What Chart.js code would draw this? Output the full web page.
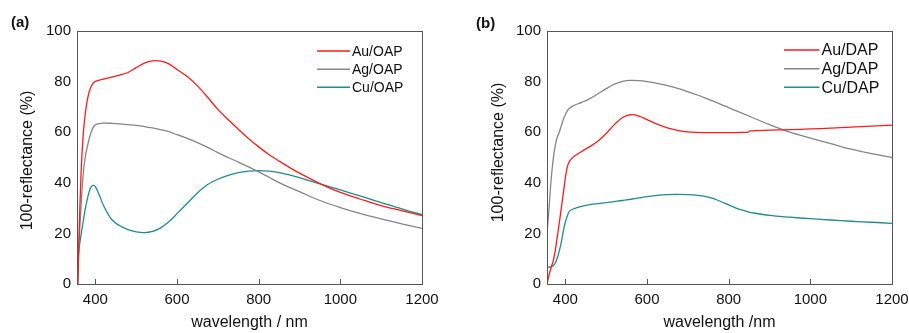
<!DOCTYPE html>
<html>
<head>
<meta charset="utf-8">
<script src="https://cdn.jsdelivr.net/npm/chart.js@4.4.1/dist/chart.umd.min.js"></script>
<style>
  html, body { margin:0; padding:0; background:#fff; width:909px; height:333px; overflow:hidden; position:relative; }
  canvas { position:absolute; top:0; }
  #ca { left:0; }
  #cb { left:455px; }
</style>
</head>
<body>
<canvas id="ca" width="455" height="333"></canvas>
<canvas id="cb" width="470" height="333"></canvas>
<script>
// ---------- data ----------
const xTicks = [400, 600, 800, 1000, 1200];
const yTicks = [0, 20, 40, 60, 80, 100];

// panel (a)
const wlA = [357,360,365,370,375,380,385,390,395,400,410,420,440,460,480,500,520,540,560,580,600,
             625,650,675,700,725,750,775,800,825,850,875,900,950,1000,1050,1100,1150,1200];
const auOAP = [0,19,44,58.5,67,72.5,76,78.2,79.5,80.1,80.6,81,81.8,82.6,83.6,85.5,87.3,88.2,88.1,87,84.8,
               82,78.3,73.8,69,65,61.2,57.5,54.2,51.2,48.6,46.1,43.8,39.7,36.2,33.5,31,29,27];
const agOAP = [0,16,31,43,50,54,57.5,60.2,62,62.9,63.4,63.6,63.5,63.3,63,62.7,62.2,61.7,61,60.2,59,
               57.6,55.9,54,51.9,50,48.2,46.3,44.3,42.2,40.1,38.2,36.5,33,30.2,27.8,25.7,23.8,22];
const cuOAP = [9,14,19.5,24.5,29.5,33.3,36.6,38.5,39,38.5,35,31,25.5,23,21.5,20.6,20.3,20.8,22.2,24.6,27.8,
               31.9,36,39.3,41.4,42.9,44,44.6,44.8,44.6,44,43.1,42,39.6,37.2,34.7,32.2,29.7,27.4];
const namesA = ["Au/OAP", "Ag/OAP", "Cu/OAP"];

// panel (b)
const wlB = [355,360,365,370,375,380,385,390,395,400,405,410,420,440,460,480,500,520,540,560,580,600,
             625,650,675,700,725,750,775,800,825,848,852,900,950,1000,1050,1100,1150,1200];
const auDAP = [0,3.5,6.5,9,13,18.5,24,30,36,42,46.5,48.5,50.3,52.4,54.3,56.5,59.5,63,65.8,66.9,66.4,65,
               63.2,61.7,60.7,60.1,59.9,59.8,59.8,59.8,59.9,60,60.5,60.8,61,61.3,61.6,62,62.4,62.8];
const agDAP = [20,30,41,49,54.5,58,60,62.5,65,67,68.5,69.5,70.5,71.8,73.3,75.2,77.2,79,80.1,80.5,80.4,80,
               79.3,78.4,77.3,76,74.6,73,71.4,69.7,68,66.5,66.2,63,60,57.7,55.5,53.3,51.5,50];
const cuDAP = [6.6,6.7,6.8,7.2,8.2,10.2,13,16.5,21,24.5,27,28.8,29.7,30.7,31.4,31.8,32.2,32.6,33,33.5,34,34.5,
               35,35.3,35.4,35.3,35,34.3,33,31.3,29.6,28.5,28.3,27.1,26.4,25.8,25.3,24.8,24.4,24];
const namesB = ["Au/DAP", "Ag/DAP", "Cu/DAP"];

// ---------- styling ----------
const COLORS = ["#ff1a1a", "#858585", "#1f8c8c"];
const FONT = "'Liberation Sans', Arial, Helvetica, sans-serif";
const FRAME = "#555555";

function pts(xs, ys) { return xs.map((x, i) => ({ x: x, y: ys[i] })); }

function makeChart(id, cfg) {
  const decor = {
    id: 'decor',
    afterDraw(chart) {
      const ctx = chart.ctx, a = chart.chartArea;
      const xs = chart.scales.x;
      ctx.save();
      // frame
      ctx.strokeStyle = FRAME;
      ctx.lineWidth = 1;
      ctx.strokeRect(Math.round(a.left) + 0.5, Math.round(a.top) + 0.5,
                     Math.round(a.right - a.left), Math.round(a.bottom - a.top));
      // inward x ticks
      ctx.beginPath();
      xTicks.forEach(v => {
        const px = Math.round(xs.getPixelForValue(v)) + 0.5;
        ctx.moveTo(px, a.bottom);
        ctx.lineTo(px, a.bottom - 5);
      });
      ctx.stroke();
      // legend
      ctx.font = cfg.legendFont + "px " + FONT;
      ctx.textBaseline = 'middle';
      ctx.textAlign = 'left';
      cfg.names.forEach((n, i) => {
        const y = cfg.legY[i];
        ctx.strokeStyle = COLORS[i];
        ctx.lineWidth = 1.5;
        ctx.beginPath();
        ctx.moveTo(cfg.legX0, y);
        ctx.lineTo(cfg.legX1, y);
        ctx.stroke();
        ctx.fillStyle = "#111";
        ctx.fillText(n, cfg.legTx, y + 1);
      });
      // axis titles
      ctx.fillStyle = "#111";
      ctx.font = "16px " + FONT;
      ctx.textAlign = 'center';
      ctx.textBaseline = 'alphabetic';
      ctx.fillText(cfg.xTitle, (a.left + a.right) / 2, 327);
      ctx.save();
      ctx.translate(cfg.yTitleX, cfg.yTitleY);
      ctx.rotate(-Math.PI / 2);
      ctx.textBaseline = 'middle';
      ctx.fillText("100-reflectance (%)", 0, 0);
      ctx.restore();
      // panel label
      ctx.font = "bold 15px " + FONT;
      ctx.textAlign = 'left';
      ctx.textBaseline = 'alphabetic';
      ctx.fillText(cfg.panel, cfg.panelX, cfg.panelY);
      ctx.restore();
    }
  };

  return new Chart(document.getElementById(id), {
    type: 'line',
    data: {
      datasets: cfg.series.map((s, i) => ({
        label: cfg.names[i],
        data: pts(cfg.wl, s),
        borderColor: COLORS[i],
        borderWidth: 1.3,
        pointRadius: 0,
        fill: false,
        tension: 0.35
      }))
    },
    options: {
      responsive: false,
      animation: false,
      devicePixelRatio: 1,
      layout: { padding: { left: 0, top: 31, right: cfg.padRight, bottom: 0 } },
      plugins: { legend: { display: false }, tooltip: { enabled: false } },
      scales: {
        x: {
          type: 'linear',
          min: 355, max: 1200,
          afterBuildTicks: s => { s.ticks = xTicks.map(v => ({ value: v })); },
          afterFit: s => { s.height = 49; },
          grid: { display: false, drawTicks: false },
          border: { display: false },
          ticks: { padding: 7, color: "#111", font: { family: FONT, size: 15 }, maxRotation: 0,
                   callback: v => String(v) }
        },
        y: {
          min: 0, max: 100,
          afterBuildTicks: s => { s.ticks = yTicks.map(v => ({ value: v })); },
          afterFit: s => { s.width = cfg.yWidth; },
          grid: { display: false, drawTicks: false },
          border: { display: false },
          ticks: { padding: 6, color: "#111", font: { family: FONT, size: 15 },
                   callback: v => String(v) }
        }
      }
    },
    plugins: [decor]
  });
}

makeChart('ca', {
  wl: wlA, series: [auOAP, agOAP, cuOAP], names: namesA,
  yWidth: 77, padRight: 33,
  legX0: 317, legX1: 350, legTx: 352, legY: [51, 69.3, 87.3], legendFont: 14,
  xTitle: "wavelength / nm", yTitleX: 28, yTitleY: 160.5,
  panel: "(a)", panelX: 11, panelY: 27
});

makeChart('cb', {
  wl: wlB, series: [auDAP, agDAP, cuDAP], names: namesB,
  yWidth: 92, padRight: 470 - 437,
  legX0: 329, legX1: 364.5, legTx: 366.5, legY: [50, 68.7, 87.3], legendFont: 16,
  xTitle: "wavelength /nm", yTitleX: 43.3, yTitleY: 152.5,
  panel: "(b)", panelX: 21, panelY: 28
});
</script>
</body>
</html>
